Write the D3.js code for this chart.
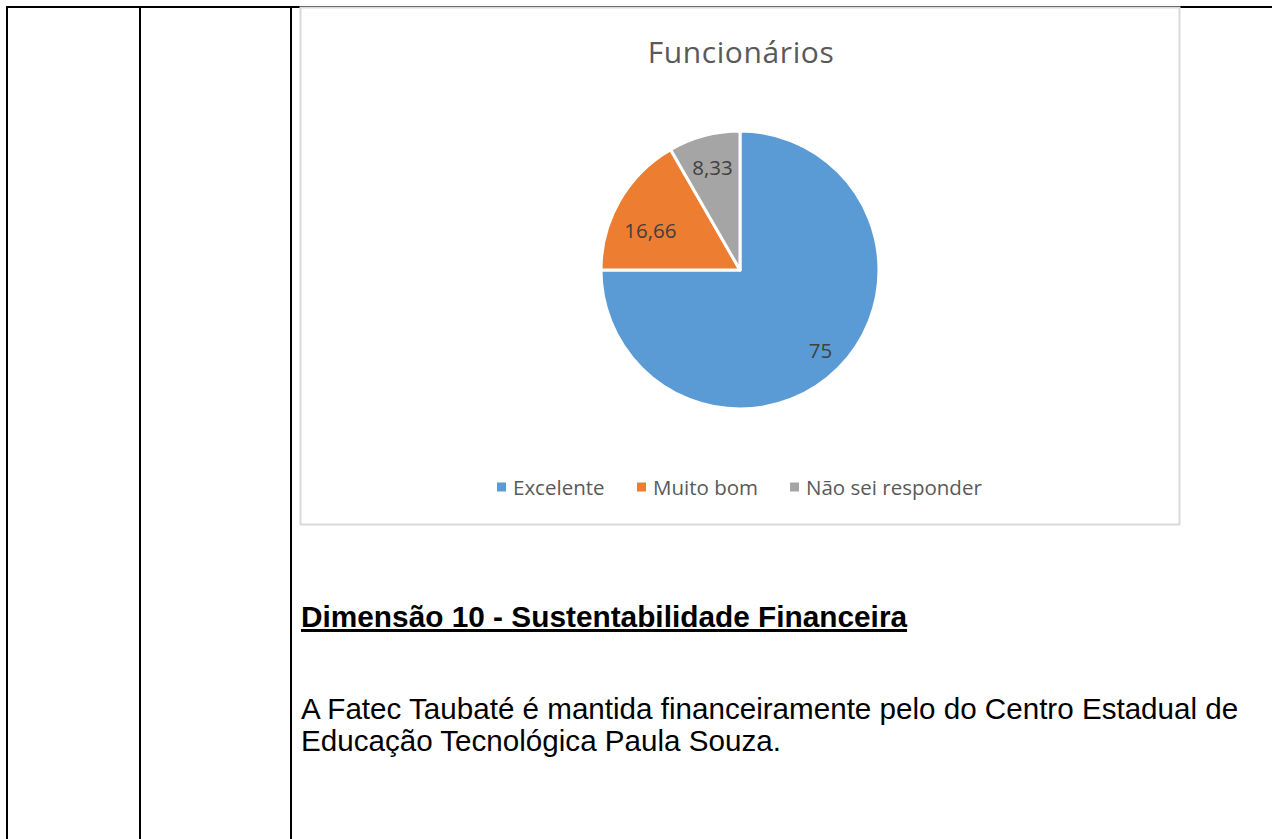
<!DOCTYPE html>
<html><head><meta charset="utf-8">
<script src="https://cdn.jsdelivr.net/npm/d3@7"></script>
<style>
html,body{margin:0;padding:0;background:#fff;}
svg{display:block;}
</style></head>
<body>
<svg id="c" width="1272" height="839"></svg>
<script>
const categories = ["Excelente", "Muito bom", "Não sei responder"];
const values = [75, 16.66, 8.33];
const valueLabels = ["75", "16,66", "8,33"];
const colors = ["#5B9BD5", "#ED7D31", "#A5A5A5"];
const chartTitle = "Funcionários";
const heading = "Dimensão 10 - Sustentabilidade Financeira";
const bodyLines = ["A Fatec Taubaté é mantida financeiramente pelo do Centro Estadual de", "Educação Tecnológica Paula Souza."];

const svg = d3.select("#c");
const W = 1272, H = 839;
const chartFont = "'Open Sans', Lato, sans-serif";
const docFont = "'Liberation Sans', Arial, sans-serif";

// document table lines
const tbl = svg.append("g").attr("stroke", "#000").attr("stroke-width", 2);
tbl.append("line").attr("x1", 6).attr("x2", W).attr("y1", 7).attr("y2", 7);
[7, 140, 291].forEach(x => tbl.append("line").attr("x1", x).attr("x2", x).attr("y1", 6).attr("y2", H));

// chart area border
svg.append("rect").attr("x", 300.5).attr("y", 7.5).attr("width", 879).attr("height", 517)
  .attr("fill", "#fff").attr("stroke", "#d9d9d9").attr("stroke-width", 2);

// title
svg.append("text").attr("x", 741).attr("y", 63).attr("text-anchor", "middle")
  .attr("font-family", chartFont).attr("font-size", 30).attr("letter-spacing", 0.6).attr("fill", "#595959")
  .text(chartTitle);

// pie
const cx = 740, cy = 270, R = 139;
const pie = d3.pie().sort(null).value(d => d)(values);
const arc = d3.arc().innerRadius(0).outerRadius(R);
const g = svg.append("g").attr("transform", `translate(${cx},${cy})`);
g.selectAll("path").data(pie).join("path")
  .attr("d", arc).attr("fill", (d, i) => colors[i])
  .attr("stroke", "#fff").attr("stroke-width", 3).attr("stroke-linejoin", "round");

const labelR = [114, 98, 106];
const labelShift = [0, -0.11, 0];
const lblAngle = (d, i) => (d.startAngle + d.endAngle) / 2 + labelShift[i];
g.selectAll("text.lbl").data(pie).join("text").attr("class", "lbl")
  .attr("x", (d, i) => Math.sin(lblAngle(d, i)) * labelR[i])
  .attr("y", (d, i) => -Math.cos(lblAngle(d, i)) * labelR[i])
  .attr("dy", "0.36em").attr("text-anchor", "middle")
  .attr("font-family", chartFont).attr("font-size", 20.5).attr("fill", "#404040")
  .text((d, i) => valueLabels[i]);

// legend
const legX = [497, 637, 790];
const lg = svg.append("g");
categories.forEach((c, i) => {
  lg.append("rect").attr("x", legX[i]).attr("y", 482.5).attr("width", 9).attr("height", 9).attr("fill", colors[i]);
  lg.append("text").attr("x", legX[i] + 16).attr("y", 494.5)
    .attr("font-family", chartFont).attr("font-size", 20.5).attr("fill", "#595959").text(c);
});

// heading
svg.append("text").attr("x", 301).attr("y", 627)
  .attr("font-family", docFont).attr("font-size", 29.8).attr("font-weight", "bold")
  .attr("fill", "#000").attr("text-decoration", "underline").text(heading);

// body
bodyLines.forEach((t, i) => {
  svg.append("text").attr("x", 301).attr("y", 719 + i * 31.5)
    .attr("font-family", docFont).attr("font-size", 29.6)
    .attr("fill", "#000").text(t);
});
</script>
</body></html>
